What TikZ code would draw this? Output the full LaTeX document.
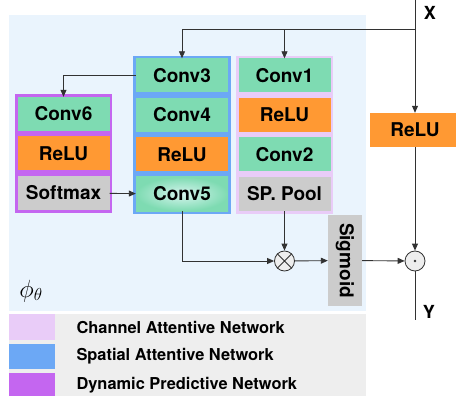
\documentclass[tikz,border=0pt]{standalone}
\usepackage{fontspec}
\setmainfont{TeX Gyre Heros}
\usetikzlibrary{positioning,fit,backgrounds,arrows.meta}

\definecolor{convgreen}{RGB}{126,219,178}
\definecolor{glowgreen}{RGB}{214,244,238}
\definecolor{reluorange}{RGB}{255,153,51}
\definecolor{poolgray}{RGB}{204,204,204}
\definecolor{spablue}{RGB}{108,168,245}
\definecolor{chanpink}{RGB}{233,204,248}
\definecolor{dynpurple}{RGB}{196,102,240}
\definecolor{bgblue}{RGB}{234,244,253}
\definecolor{leggray}{RGB}{238,238,238}
\definecolor{linegray}{RGB}{50,50,50}
\definecolor{opgray}{RGB}{238,238,238}

\tikzset{
  blk/.style={minimum width=92pt, minimum height=34pt, inner sep=0pt,
              font=\fontsize{19}{21}\selectfont\bfseries},
  conv/.style={blk, fill=convgreen},
  relu/.style={blk, fill=reluorange},
  pool/.style={blk, fill=poolgray},
  op/.style={circle, draw=linegray, fill=opgray, minimum size=20pt,
             inner sep=0pt, line width=0.8pt},
  flow/.style={draw=linegray, line width=0.9pt, -{Triangle[length=7pt,width=6pt]}},
  wire/.style={draw=linegray, line width=0.9pt},
  legtext/.style={anchor=west, font=\fontsize{16.4}{18}\selectfont\bfseries},
  swatch/.style={minimum width=46pt, inner sep=0pt},
}

\begin{document}
\begin{tikzpicture}[x=1pt, y=-1pt, node distance=39.5pt]
\useasboundingbox (0,0) rectangle (456,396);

% spatial attentive network
\node(C3)   [conv] at (182,75.5)    {Conv3};
\node(C4)   [conv, below of=C3]     {Conv4};
\node(R2)   [relu, below of=C4]     {ReLU};
\node(C5)   [blk, shading=radial, inner color=glowgreen, outer color=convgreen,
             below of=R2]           {Conv5};

% channel attentive network
\node(C1)   [conv] at (284.5,75.5)  {Conv1};
\node(R1)   [relu, below of=C1]     {ReLU};
\node(C2)   [conv, below of=R1]     {Conv2};
\node(SP)   [pool, below of=C2]     {SP. Pool};

% dynamic predictive network
\node(C6)   [conv] at (63.5,114)    {Conv6};
\node(R3)   [relu, below of=C6]     {ReLU};
\node(SM)   [pool, below of=R3]     {Softmax};

\node(R4)   [relu, minimum width=90pt] at (415,130) {ReLU};
\node(SG)   [pool, minimum width=34pt, minimum height=91pt] at (345,260.5)
            {\rotatebox{-90}{Sigmoid}};
\node(OT)   [op] at (284.5,261) {};
\node(OD)   [op] at (415,261)   {};

\node(XL)   [font=\fontsize{18}{20}\selectfont\bfseries] at (430,13)  {X};
\node(YL)   [font=\fontsize{18}{20}\selectfont\bfseries] at (429,312) {Y};
\node(phi)  [font=\fontsize{26}{28}\selectfont] at (31,291) {$\phi_\theta$};

\coordinate(xin)  at (415,0);
\coordinate(sp)   at (415,29);
\coordinate(yout) at (415,320);

\draw[flow] (xin)  -- (R4);
\draw[flow] (sp)   -| (C3);
\draw[flow] (sp)   -| (C1);
\draw[flow] (C3)   -| (C6);
\draw[flow] (SM)   -- (C5);
\draw[flow] (C5)   |- (OT);
\draw[flow] (SP)   -- (OT);
\draw[flow] (OT)   -- (SG);
\draw[flow] (SG)   -- (OD);
\draw[flow] (R4)   -- (OD);
\draw[wire] (OD)   -- (yout);

\draw[wire, line width=0.8pt] (OT.north west) -- (OT.south east)
                              (OT.north east) -- (OT.south west);
\fill[linegray] (OD) circle (1.4pt);

% legend
\node(L1)   [swatch, fill=chanpink,  minimum height=26pt] at (32,327)   {};
\node(L2)   [swatch, fill=spablue,   minimum height=25pt] at (32,356.5) {};
\node(L3)   [swatch, fill=dynpurple, minimum height=24pt] at (32,385)   {};
\node(T1)   [legtext] at (73,327)   {Channel Attentive Network};
\node(T2)   [legtext] at (73,356)   {Spatial Attentive Network};
\node(T3)   [legtext] at (73,385)   {Dynamic Predictive Network};

\begin{scope}[on background layer]
\fill[bgblue]  (9,15)  rectangle (366,311);
\fill[leggray] (9,314) rectangle (366,396);
\node(spa)  [fit=(C3)(C5), inner sep=2.5pt, fill=spablue]   {};
\node(cha)  [fit=(C1)(SP), inner sep=2.5pt, fill=chanpink]  {};
\node(dyn)  [fit=(C6)(SM), inner sep=2.5pt, fill=dynpurple] {};
\end{scope}
\end{tikzpicture}
\end{document}
